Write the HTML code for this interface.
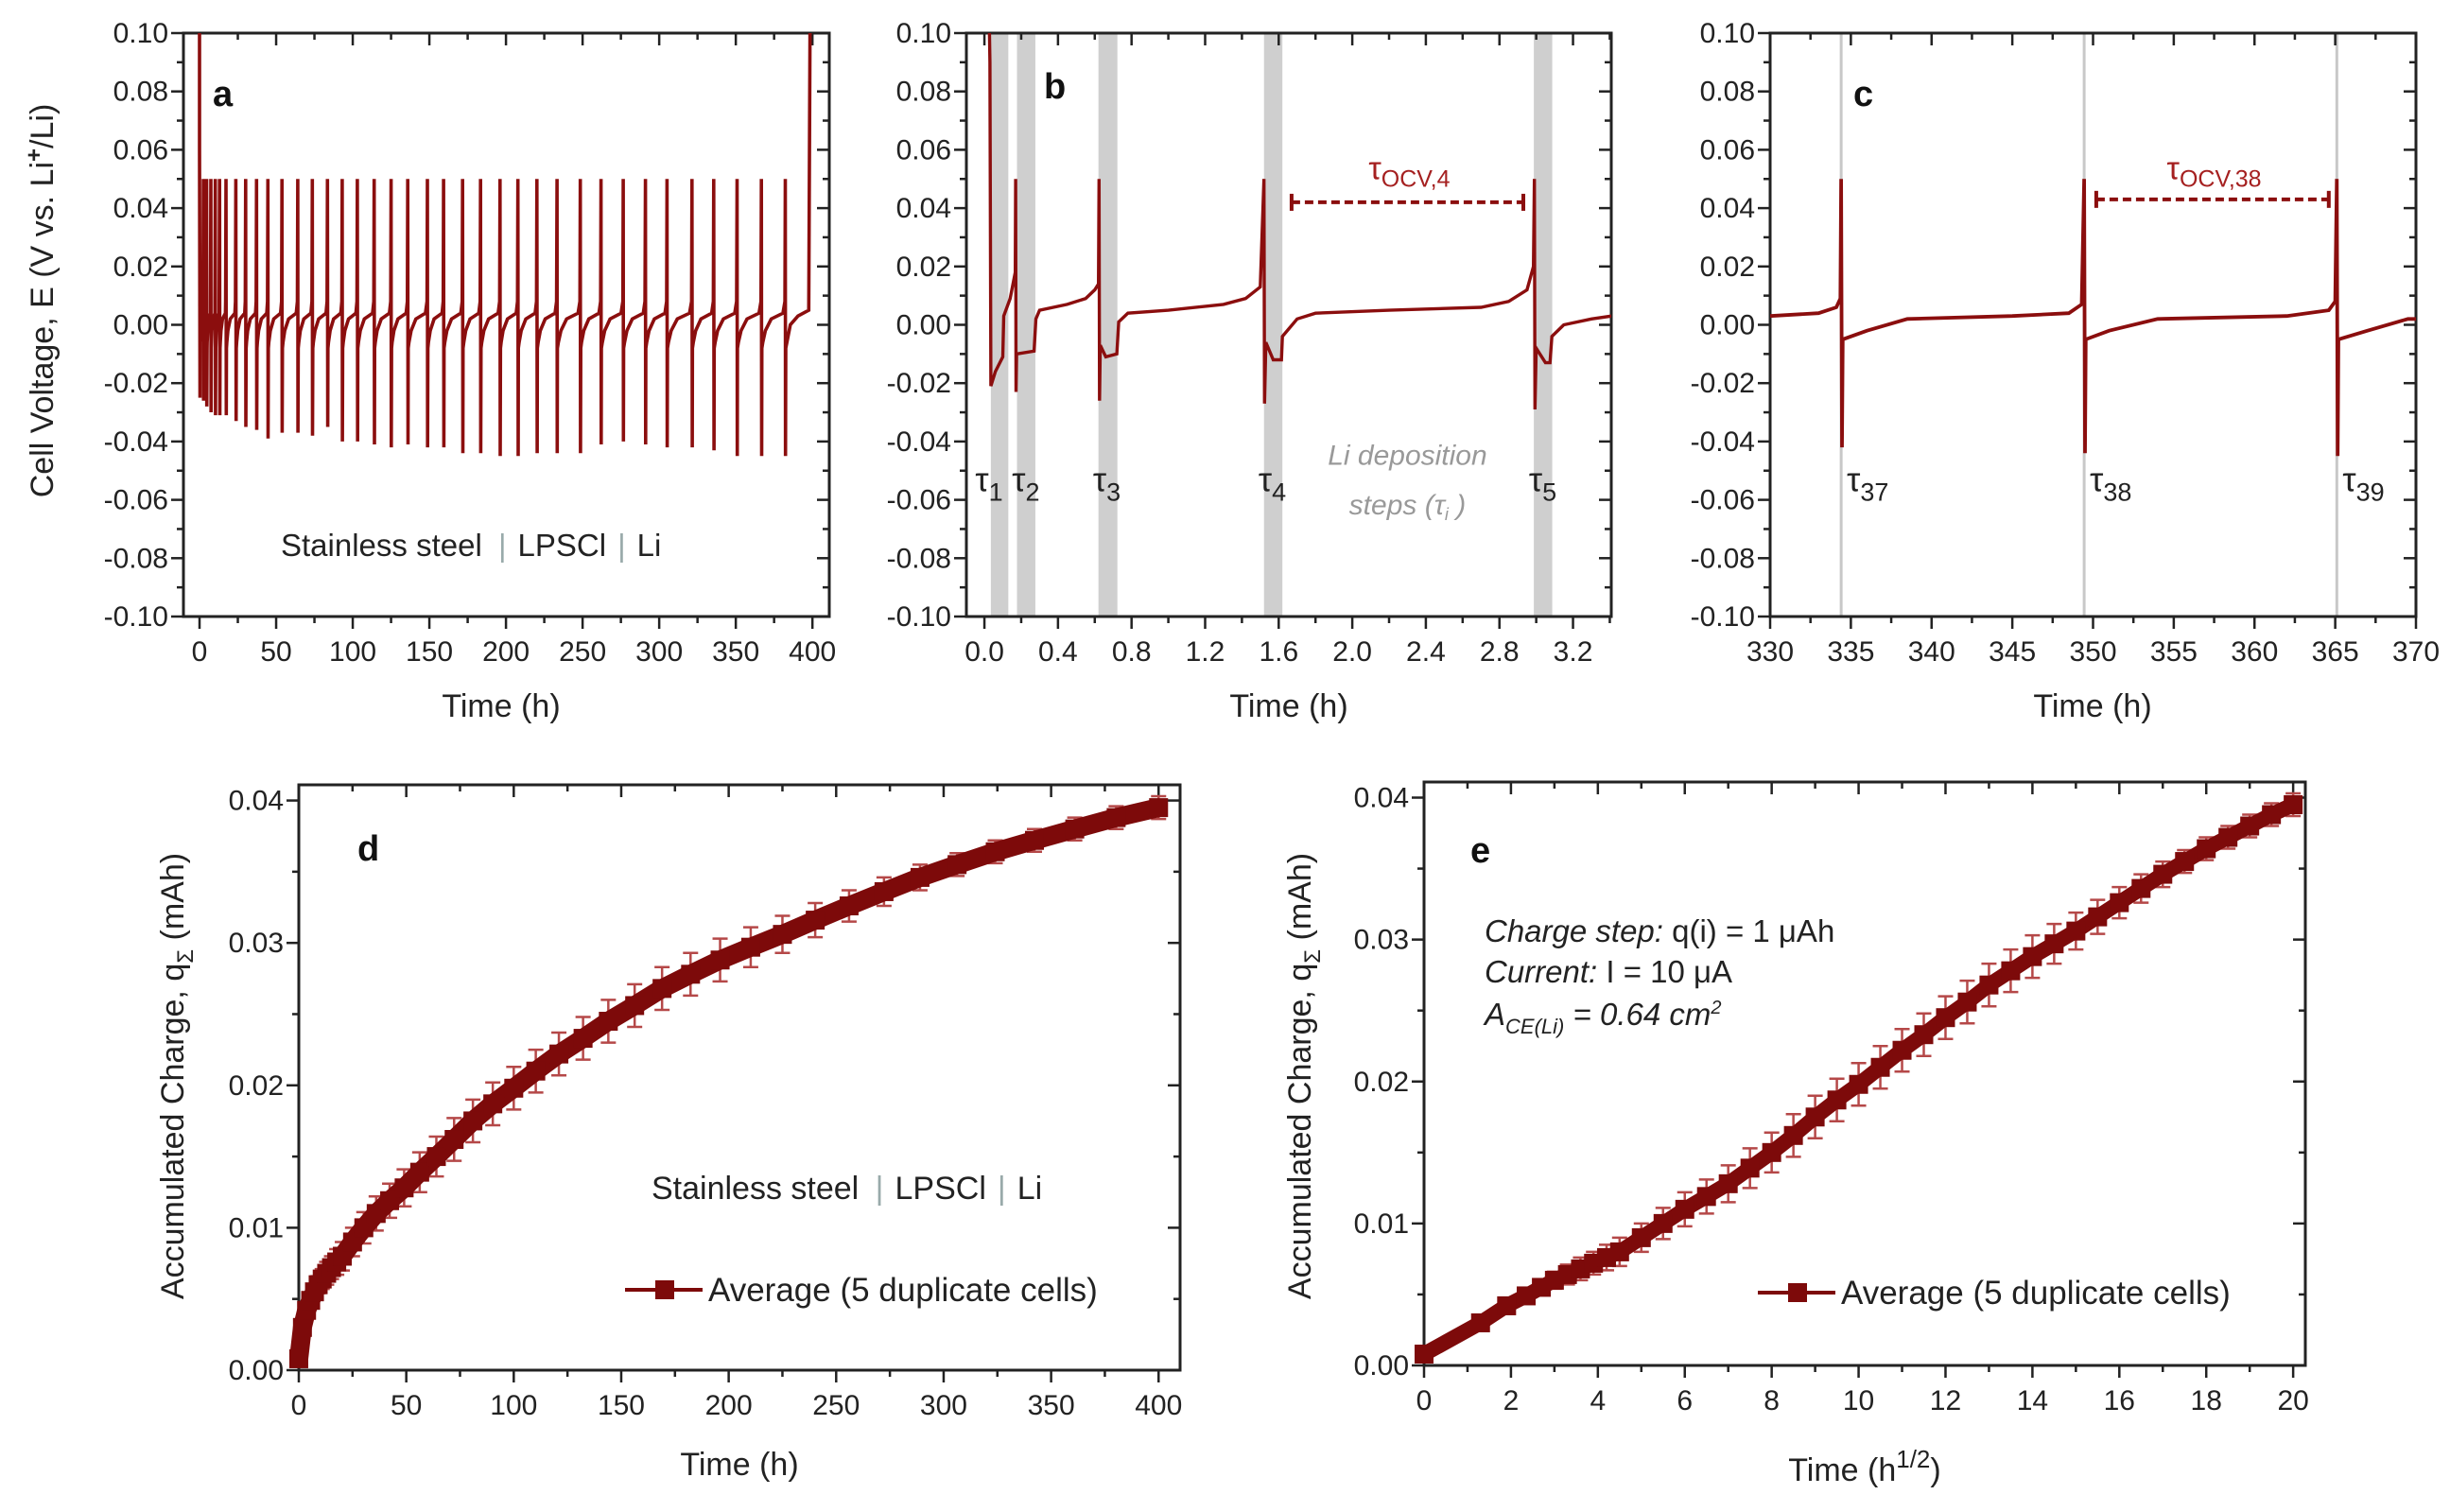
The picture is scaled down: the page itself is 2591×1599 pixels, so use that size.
<!DOCTYPE html>
<html><head><meta charset="utf-8"><style>
html,body{margin:0;padding:0;background:#fff}
svg{display:block;font-family:"Liberation Sans",Arial,sans-serif}
</style></head><body>
<svg id="fig" width="2591" height="1599" viewBox="0 0 2591 1599" xmlns="http://www.w3.org/2000/svg">
<rect width="2591" height="1599" fill="#fff"/>
</svg>
<script>
// ---------- Panel a data ----------
const spikeTimesA=[2.5,4.6,7.4,10.3,13.1,17.3,23.7,30.1,37.2,44.6,53.8,64.1,73.6,83.5,93.1,103,114,125,135.9,148.7,159.3,171.7,183.4,196.1,207.8,220.2,233.3,248.5,262,276.5,291,305.1,321.4,335.6,350.8,366.7,382.3];
const spikeMinsA=[-0.026,-0.028,-0.030,-0.031,-0.031,-0.031,-0.033,-0.035,-0.036,-0.039,-0.037,-0.037,-0.038,-0.035,-0.040,-0.040,-0.041,-0.042,-0.041,-0.042,-0.042,-0.044,-0.044,-0.045,-0.045,-0.044,-0.044,-0.044,-0.041,-0.040,-0.041,-0.042,-0.042,-0.043,-0.045,-0.045,-0.045];
const finalRiseA=398.6;
// ---------- Panel b data ----------
const timeB=[0.025,0.03,0.035,0.06,0.1,0.105,0.14,0.168,0.17,0.172,0.175,0.27,0.28,0.3,0.45,0.55,0.6,0.62,0.623,0.626,0.63,0.66,0.72,0.73,0.78,1.0,1.3,1.42,1.5,1.52,1.523,1.53,1.57,1.615,1.62,1.7,1.8,2.2,2.7,2.85,2.95,2.985,2.99,2.993,3.0,3.05,3.075,3.085,3.15,3.3,3.41];
const voltB=[0.11,0.09,-0.021,-0.016,-0.011,0.003,0.009,0.018,0.05,-0.023,-0.010,-0.009,0.002,0.005,0.007,0.009,0.012,0.014,0.05,-0.026,-0.007,-0.011,-0.010,0.001,0.004,0.005,0.007,0.009,0.013,0.05,-0.027,-0.006,-0.012,-0.012,-0.004,0.002,0.004,0.005,0.006,0.008,0.012,0.02,0.05,-0.029,-0.008,-0.013,-0.013,-0.004,0.0,0.002,0.003];
const bandStartB=[0.035,0.177,0.62,1.52,2.987];
const bandEndB=[0.13,0.277,0.723,1.62,3.087];
const tauLabelB=['1','2','3','4','5'];
const tauXB=[-0.05,0.15,0.59,1.49,2.96];
// ---------- Panel c data ----------
const timeC=[330,333,334.1,334.35,334.4,334.45,334.5,336,338.5,345,348.5,349.3,349.45,349.5,349.55,351,354,362,364.6,365.0,365.1,365.15,365.2,367,369.5,370];
const voltC=[0.003,0.004,0.006,0.009,0.05,-0.042,-0.005,-0.002,0.002,0.003,0.004,0.007,0.05,-0.044,-0.005,-0.002,0.002,0.003,0.005,0.008,0.05,-0.045,-0.005,-0.002,0.002,0.002];
const stepLinesC=[334.4,349.45,365.1];
const tauLabelC=['37','38','39'];
// ---------- Panels d/e data ----------
const sqrtTime=[0,1.3,1.9,2.35,2.7,3.0,3.3,3.6,3.9,4.2,4.5,5,5.5,6,6.5,7,7.5,8,8.5,9,9.5,10,10.5,11,11.5,12,12.5,13,13.5,14,14.5,15,15.5,16,16.5,17,17.5,18,18.5,19,19.5,20];
const chargeAvg=[0.0008,0.0030,0.0042,0.0049,0.0055,0.0060,0.0064,0.0068,0.0072,0.0076,0.0080,0.0090,0.0100,0.0110,0.0119,0.0128,0.0139,0.0150,0.0162,0.0175,0.0187,0.0198,0.0210,0.0222,0.0233,0.0245,0.0256,0.0268,0.0278,0.0288,0.0297,0.0306,0.0316,0.0326,0.0336,0.0346,0.0355,0.0364,0.0372,0.0380,0.0388,0.0395];
const chargeErr=[0.0001,0.0002,0.0003,0.0004,0.0005,0.0006,0.0007,0.0008,0.0008,0.0009,0.0010,0.0010,0.0011,0.0012,0.0012,0.0013,0.0014,0.0014,0.0015,0.0015,0.0015,0.0015,0.0015,0.0015,0.0015,0.0015,0.0015,0.0015,0.0015,0.0015,0.0014,0.0013,0.0012,0.0011,0.0010,0.0009,0.0008,0.0008,0.0008,0.0008,0.0008,0.0008];

const NS='http://www.w3.org/2000/svg';
const svg=document.getElementById('fig');
const RED='#8b0e0e';
function el(tag,attrs,parent,text){const e=document.createElementNS(NS,tag);for(const k in attrs)e.setAttribute(k,attrs[k]);if(text!==undefined)e.textContent=text;(parent||svg).appendChild(e);return e;}
function scale(d0,d1,p0,p1){return v=>p0+(v-d0)*(p1-p0)/(d1-d0);}

function axes(g,P,xt,xfmt,xminor,yt,yfmt,yminor){
  const X=P.x,Y=P.y;
  el('rect',{x:P.l,y:P.t,width:P.r-P.l,height:P.b-P.t,fill:'none',stroke:'#222','stroke-width':3},g);
  const tk=el('g',{stroke:'#222','stroke-width':2.5},g);
  
  
  xminor.forEach(v=>{const x=X(v);el('line',{x1:x,y1:P.b,x2:x,y2:P.b+7},tk);el('line',{x1:x,y1:P.t,x2:x,y2:P.t+7},tk);});
  yminor.forEach(v=>{const y=Y(v);el('line',{x1:P.l,y1:y,x2:P.l-7,y2:y},tk);el('line',{x1:P.r,y1:y,x2:P.r-7,y2:y},tk);});
  xt.forEach(v=>{const x=X(v);el('line',{x1:x,y1:P.b,x2:x,y2:P.b+13},tk);el('line',{x1:x,y1:P.t,x2:x,y2:P.t+13},tk);
    const t=el('text',{x:x,y:P.b+47,'text-anchor':'middle','font-size':30,fill:'#222'},g,xfmt(v));
    
    });
  yt.forEach(v=>{const y=Y(v);el('line',{x1:P.l,y1:y,x2:P.l-13,y2:y},tk);el('line',{x1:P.r,y1:y,x2:P.r-13,y2:y},tk);
    const t=el('text',{x:P.l-16,y:y+10,'text-anchor':'end','font-size':30,fill:'#222'},g,yfmt(v));
    
    });
}
function range(a,b,s){const r=[];for(let v=a;v<=b+1e-9;v+=s)r.push(+v.toFixed(6));return r;}
function clip(id,P){const c=el('clipPath',{id:id});el('rect',{x:P.l,y:P.t,width:P.r-P.l,height:P.b-P.t},c);}
function fmtV(v){return v.toFixed(2).replace('-0.00','0.00');}
function panelLetter(g,x,y,s){const t=el('text',{x:x,y:y,'font-size':38,'font-weight':'bold',fill:'#111'},g,s);}
function title(g,x,y,txt,rot,name){const t=el('text',{x:x,y:y,'text-anchor':'middle','font-size':34,fill:'#222',transform:rot?`rotate(-90 ${x} ${y})`:''},g);t.innerHTML=txt;return t;}

// ===== Panel a =====
{
const g=el('g',{});
const P={l:194,r:877,t:35,b:652};P.x=scale(-10.5,411,194,877);P.y=scale(-0.10,0.10,652,35);
axes(g,P,range(0,400,50),v=>v,range(25,400,50),range(-0.10,0.10,0.02),fmtV,range(-0.09,0.09,0.02));
clip('ca',P);
let pts=[[0,0.12],[0,0.06],[0.3,-0.025]];
let prevT=0.3;
spikeTimesA.forEach((t,i)=>{
  const gap=t-prevT;
  pts.push([prevT+gap*0.04,-0.006],[prevT+gap*0.15,-0.002],[prevT+gap*0.4,0.002],[t-gap*0.1,0.004],[t-0.25,0.008],[t,0.05],[t+0.15,spikeMinsA[i]],[t+0.3,-0.008]);
  prevT=t+0.3;
});
pts.push([prevT+3,0.0],[prevT+8,0.003],[finalRiseA-1,0.005],[finalRiseA,0.12]);
const p=el('polyline',{points:pts.map(q=>P.x(q[0]).toFixed(1)+','+P.y(q[1]).toFixed(1)).join(' '),fill:'none',stroke:RED,'stroke-width':3.6,'clip-path':'url(#ca)'},g);

panelLetter(g,225,112,'a');
title(g,530,758,'Time (h)',false,'x-axis-title');
title(g,56,318,'Cell Voltage, E (V vs. Li<tspan dy="-12" font-size="24" font-weight="bold">+</tspan><tspan dy="12">/Li)</tspan>',true,'y-axis-title');
const c=el('text',{x:297,y:588,'font-size':33,fill:'#222'},g);
c.innerHTML='Stainless steel <tspan fill="#9aa" dx="8">|</tspan><tspan dx="12">LPSCl</tspan><tspan fill="#9aa" dx="12">|</tspan><tspan dx="12">Li</tspan>';
}
// ===== Panel b =====
{
const g=el('g',{});
const P={l:1022,r:1704,t:35,b:652};P.x=scale(-0.098,3.408,1022,1704);P.y=scale(-0.10,0.10,652,35);
clip('cb',P);
bandStartB.forEach((s,i)=>{const r=el('rect',{x:P.x(s),y:P.t,width:P.x(bandEndB[i])-P.x(s),height:P.b-P.t,fill:'#cfcfcf'},g);});
axes(g,P,range(0,3.2,0.4),v=>v.toFixed(1),range(0.2,3.4,0.4),range(-0.10,0.10,0.02),fmtV,range(-0.09,0.09,0.02));
const p=el('polyline',{points:timeB.map((t,i)=>P.x(t).toFixed(1)+','+P.y(voltB[i]).toFixed(1)).join(' '),fill:'none',stroke:RED,'stroke-width':3.4,'clip-path':'url(#cb)'},g);

tauXB.forEach((x,i)=>{const t=el('text',{x:P.x(x),y:P.y(-0.057),'font-size':36,fill:'#222'},g);t.innerHTML='τ<tspan dy="10" font-size="27">'+tauLabelB[i]+'</tspan>';});
const bg=el('g',{stroke:RED,'stroke-width':4},g);
const y=P.y(0.042),x1=P.x(1.67),x2=P.x(2.93);
el('line',{x1:x1,y1:y,x2:x2,y2:y,'stroke-dasharray':'9 5'},bg);el('line',{x1:x1,y1:y-9,x2:x1,y2:y+9},bg);el('line',{x1:x2,y1:y-9,x2:x2,y2:y+9},bg);
const to=el('text',{x:P.x(2.31),y:P.y(0.050),'text-anchor':'middle','font-size':34,fill:'#a52020'},g);to.innerHTML='τ<tspan dy="8" font-size="25">OCV,4</tspan>';
const l1=el('text',{x:P.x(2.3),y:P.y(-0.048),'text-anchor':'middle','font-size':30,'font-style':'italic',fill:'#999'},g,'Li deposition');
const l2=el('text',{x:P.x(2.3),y:P.y(-0.065),'text-anchor':'middle','font-size':30,'font-style':'italic',fill:'#999'},g);l2.innerHTML='steps (τ<tspan dy="6" font-size="18">i</tspan><tspan dy="-6"> )</tspan>';
panelLetter(g,1104,104,'b');
title(g,1363,758,'Time (h)',false,'x-axis-title');
}
// ===== Panel c =====
{
const g=el('g',{});
const P={l:1872,r:2555,t:35,b:652};P.x=scale(330,370,1872,2555);P.y=scale(-0.10,0.10,652,35);
clip('cc',P);
stepLinesC.forEach(s=>{const l=el('line',{x1:P.x(s),y1:P.t,x2:P.x(s),y2:P.b,stroke:'#c8c8c8','stroke-width':3},g);});
axes(g,P,range(330,370,5),v=>v,range(332.5,367.5,5),range(-0.10,0.10,0.02),fmtV,range(-0.09,0.09,0.02));
const p=el('polyline',{points:timeC.map((t,i)=>P.x(t).toFixed(1)+','+P.y(voltC[i]).toFixed(1)).join(' '),fill:'none',stroke:RED,'stroke-width':3.8,'clip-path':'url(#cc)'},g);

stepLinesC.forEach((s,i)=>{const t=el('text',{x:P.x(s)+6,y:P.y(-0.057),'font-size':36,fill:'#222'},g);t.innerHTML='τ<tspan dy="10" font-size="27">'+tauLabelC[i]+'</tspan>';});
const bg=el('g',{stroke:RED,'stroke-width':4},g);
const y=P.y(0.043),x1=P.x(350.2),x2=P.x(364.6);
el('line',{x1:x1,y1:y,x2:x2,y2:y,'stroke-dasharray':'9 5'},bg);el('line',{x1:x1,y1:y-9,x2:x1,y2:y+9},bg);el('line',{x1:x2,y1:y-9,x2:x2,y2:y+9},bg);
const to=el('text',{x:P.x(357.5),y:P.y(0.050),'text-anchor':'middle','font-size':34,fill:'#a52020'},g);to.innerHTML='τ<tspan dy="8" font-size="25">OCV,38</tspan>';
panelLetter(g,1960,112,'c');
title(g,2213,758,'Time (h)',false,'x-axis-title');
}
// ===== Panels d and e =====
function chargePanel(name,P,xs,xt,xfmt,xminor,letterXY,xtitle,ytx){
  const g=el('g',{});
  axes(g,P,xt,xfmt,xminor,range(0,0.04,0.01),v=>v.toFixed(2),range(0.005,0.035,0.01));
  const eb=el('g',{stroke:'#b54848','stroke-width':2.5},g);
  xs.forEach((x,i)=>{const X=P.x(x),y1=P.y(chargeAvg[i]+chargeErr[i]),y2=P.y(chargeAvg[i]-chargeErr[i]);
    el('line',{x1:X,y1:y1,x2:X,y2:y2},eb);el('line',{x1:X-8,y1:y1,x2:X+8,y2:y1},eb);el('line',{x1:X-8,y1:y2,x2:X+8,y2:y2},eb);});
  const ln=el('polyline',{points:xs.map((x,i)=>P.x(x).toFixed(1)+','+P.y(chargeAvg[i]).toFixed(1)).join(' '),fill:'none',stroke:'#7d0a0a','stroke-width':name==='panel-d'?20:16,'stroke-linejoin':'round'},g);
  
  xs.forEach((x,i)=>{const m=el('rect',{x:P.x(x)-10,y:P.y(chargeAvg[i])-10,width:20,height:20,fill:'#7d0a0a'},g);
    
    });
  panelLetter(g,letterXY[0],letterXY[1],name.slice(-1));
  title(g,(P.l+P.r)/2,xtitle[1],xtitle[0],false,'x-axis-title');
  title(g,ytx,1138,'Accumulated Charge, q<tspan dy="10" font-size="24">Σ</tspan><tspan dy="-10"> (mAh)</tspan>',true,'y-axis-title');
  return g;
}
function legend(g,x,y){
  const lg=el('g',{},g);
  el('line',{x1:x,y1:y,x2:x+82,y2:y,stroke:'#7d0a0a','stroke-width':4},lg);
  el('rect',{x:x+32,y:y-10,width:20,height:20,fill:'#7d0a0a'},lg);
  el('text',{x:x+88,y:y+12,'font-size':35,fill:'#222'},lg,'Average (5 duplicate cells)');
}
{
const P={l:316,r:1248,t:830,b:1449};P.x=scale(0,410,316,1248);P.y=scale(0,0.0411,1449,830);
const g=chargePanel('panel-d',P,sqrtTime.map(s=>s*s),range(0,400,50),v=>v,range(25,400,50),[378,910],['Time (h)',1560],194);
legend(g,661,1364);
const c=el('text',{x:689,y:1268,'font-size':34,fill:'#222'},g);
c.innerHTML='Stainless steel <tspan fill="#9aa" dx="8">|</tspan><tspan dx="12">LPSCl</tspan><tspan fill="#9aa" dx="12">|</tspan><tspan dx="12">Li</tspan>';
}
{
const P={l:1506,r:2438,t:827,b:1444};P.x=scale(0,20.28,1506,2438);P.y=scale(0,0.0411,1444,827);
const g=chargePanel('panel-e',P,sqrtTime,range(0,20,2),v=>v,range(1,19,2),[1555,912],['Time (h<tspan dy="-14" font-size="26">1/2</tspan><tspan dy="14">)</tspan>',1566],1386);
legend(g,1859,1367);
const a=el('text',{x:1570,y:996,'font-size':33,fill:'#222'},g);
a.innerHTML='<tspan font-style="italic">Charge step:</tspan>  q(i) = 1 μAh';
const b=el('text',{x:1570,y:1039,'font-size':33,fill:'#222'},g);
b.innerHTML='<tspan font-style="italic">Current:</tspan>  I = 10 μA';
const c=el('text',{x:1570,y:1084,'font-size':33,fill:'#222','font-style':'italic'},g);
c.innerHTML='A<tspan dy="9" font-size="22">CE(Li)</tspan><tspan dy="-9"> = 0.64 cm</tspan><tspan dy="-12" font-size="20">2</tspan>';
}
</script>
</body></html>
